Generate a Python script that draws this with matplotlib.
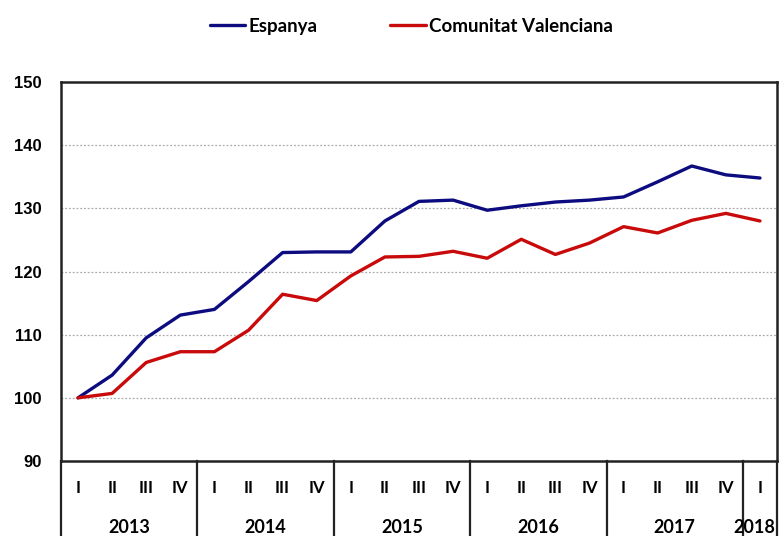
import numpy as np
import matplotlib.pyplot as plt
from matplotlib.transforms import blended_transform_factory

QUARTERS = ['I', 'II', 'III', 'IV'] * 5 + ['I']
YEARS = ['2013', '2014', '2015', '2016', '2017', '2018']
ESPANYA = [100.0, 103.6, 109.5, 113.1, 114.0, 118.4, 123.0, 123.1, 123.1, 128.0,
           131.1, 131.3, 129.7, 130.4, 131.0, 131.3, 131.8, 134.2, 136.7, 135.3, 134.8]
VALENCIANA = [100.0, 100.7, 105.6, 107.3, 107.3, 110.7, 116.4, 115.4, 119.3, 122.3,
              122.4, 123.2, 122.1, 125.1, 122.7, 124.5, 127.1, 126.1, 128.1, 129.2, 128.0]

x = np.arange(len(QUARTERS))

fig = plt.figure(figsize=(7.79, 5.36), dpi=100)
ax = fig.add_axes([61/779, 75/536, 716/779, 379/536])

ax.plot(x, ESPANYA, color='#0c0c80', lw=2.4, label='Espanya', solid_capstyle='round')
ax.plot(x, VALENCIANA, color='#c80a0a', lw=2.4, label='Comunitat Valenciana', solid_capstyle='round')

ax.set_xlim(-0.5, len(x) - 0.5)
ax.set_ylim(90, 150)
ax.set_yticks(range(90, 151, 10))
for lab in ax.get_yticklabels():
    lab.set_fontfamily('Liberation Sans')
    lab.set_fontweight('bold')
    lab.set_fontsize(12)
ax.tick_params(axis='y', length=0, pad=14)

for v in range(100, 150, 10):
    ax.axhline(v, color='#aaaaaa', lw=0.9, ls=(0, (1.5, 1.5)), zorder=0)

for s in ax.spines.values():
    s.set_linewidth(1.8)
    s.set_color('#222222')

# quarter / year table under the axis
ax.set_xticks([])
trans = blended_transform_factory(ax.transData, ax.transAxes)
for i, q in enumerate(QUARTERS):
    ax.text(i, -0.072, q, transform=trans, ha='center', va='center',
            fontfamily='Lato', fontweight='bold', fontsize=12)
for k, yr in enumerate(YEARS[:-1]):
    ax.text(4 * k + 1.5, -0.176, yr, transform=trans, ha='center', va='center',
            fontfamily='Lato', fontweight='bold', fontsize=13)
ax.text(20.45, -0.176, YEARS[-1], transform=trans, ha='right', va='center',
        fontfamily='Lato', fontweight='bold', fontsize=13)
for xs in [-0.5, 3.5, 7.5, 11.5, 15.5, 19.5, 20.5]:
    ax.plot([xs, xs], [0, -0.21], transform=trans, color='#222222', lw=1.6,
            clip_on=False)

leg = fig.legend(loc='center', bbox_to_anchor=(0.528, 0.951), ncol=2, frameon=False,
                 handlelength=1.9, handletextpad=0.15, columnspacing=3.9,
                 prop={'family': 'Lato', 'weight': 'bold', 'size': 13.5})

fig.savefig('out.png', dpi=100)
